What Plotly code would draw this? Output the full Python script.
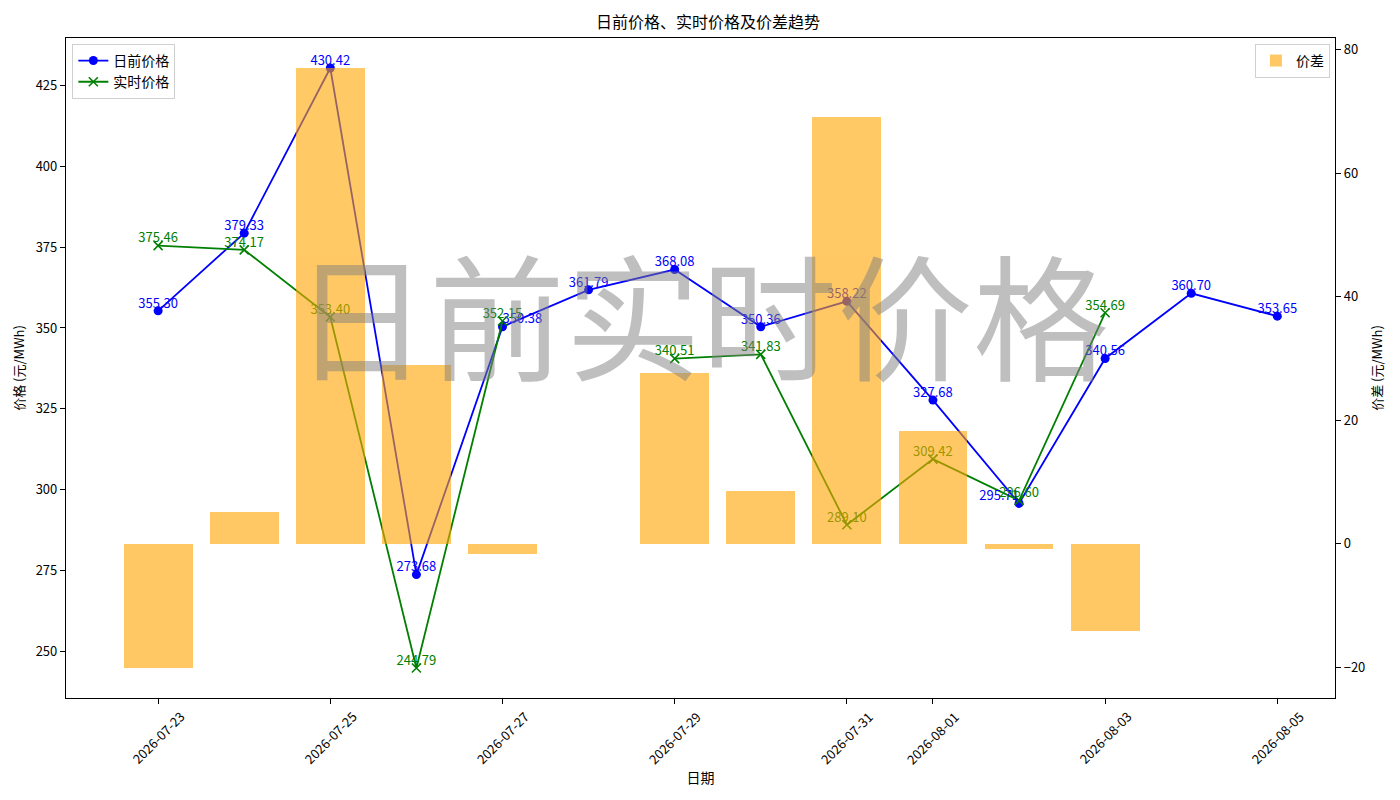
import plotly.graph_objects as go
import pandas as pd
import numpy as np

# daily data
dates = ["2026-07-23", "2026-07-24", "2026-07-25", "2026-07-26", "2026-07-27",
         "2026-07-28", "2026-07-29", "2026-07-30", "2026-07-31", "2026-08-01",
         "2026-08-02", "2026-08-03", "2026-08-04", "2026-08-05"]
day_ahead = [355.30, 379.33, 430.42, 273.68, 350.38, 361.79, 368.08,
             350.36, 358.22, 327.68, 295.71, 340.56, 360.70, 353.65]
real_time = [375.46, 374.17, 353.40, 244.79, 352.15, None, 340.51,
             341.83, 289.10, 309.42, 296.60, 354.69, None, None]
tick_dates = ["2026-07-23", "2026-07-25", "2026-07-27", "2026-07-29",
              "2026-07-31", "2026-08-01", "2026-08-03", "2026-08-05"]

x = pd.to_datetime(dates)
da = np.array(day_ahead, dtype=float)
rt = np.array([np.nan if v is None else v for v in real_time], dtype=float)
spread = da - rt
has_rt = ~np.isnan(rt)

FONT = "Noto Sans CJK SC"
DAY = pd.Timedelta(days=1)

# matplotlib-like 5% margins
def pad(lo, hi, m=0.05):
    d = hi - lo
    return [lo - d * m, hi + d * m]

y1_range = pad(np.nanmin(np.r_[da, rt]), np.nanmax(np.r_[da, rt]))
y2_range = pad(np.nanmin(spread), np.nanmax(spread))
lo = x[0] - 0.4 * DAY
hi = x[-1]
span = hi - lo
x_range = [lo - span * 0.05, hi + span * 0.05]

fig = go.Figure()

fig.add_trace(go.Scatter(
    x=x, y=da, mode="lines+markers", name="日前价格",
    line=dict(color="blue", width=1.8),
    marker=dict(color="blue", size=9, symbol="circle"),
    legend="legend",
))
fig.add_trace(go.Scatter(
    x=x, y=rt, mode="lines+markers", name="实时价格",
    line=dict(color="green", width=1.8),
    marker=dict(color="green", size=9, symbol="x-thin", line=dict(color="green", width=1.6)),
    connectgaps=False, legend="legend",
))

# value labels
da_pos = ["top center"] * len(dates)
da_pos[4] = "top right"
da_pos[10] = "top left"
fig.add_trace(go.Scatter(
    x=x, y=da, mode="text", text=[f"{v:.2f}" for v in da],
    textposition=da_pos, textfont=dict(color="blue", size=13, family=FONT),
    showlegend=False, hoverinfo="skip",
))
fig.add_trace(go.Scatter(
    x=x[has_rt], y=rt[has_rt], mode="text", text=[f"{v:.2f}" for v in rt[has_rt]],
    textposition="top center", textfont=dict(color="green", size=13, family=FONT),
    showlegend=False, hoverinfo="skip",
))

fig.add_trace(go.Bar(
    x=x[has_rt], y=spread[has_rt], name="价差", yaxis="y2",
    marker=dict(color="orange", line=dict(width=0)), opacity=0.6,
    width=0.8 * 86400000, legend="legend2",
))

annotations = [dict(
    text="日前实时价格", xref="paper", yref="paper", x=0.5, y=0.585,
    showarrow=False, font=dict(size=136, color="rgba(128,128,128,0.5)", family=FONT),
    xanchor="center", yanchor="middle",
)]
for d in tick_dates:
    annotations.append(dict(
        text=d, xref="x", yref="paper", x=d, y=-0.06, textangle=-45,
        showarrow=False, font=dict(size=13, color="black", family=FONT),
        xanchor="center", yanchor="middle",
    ))

axis_common = dict(
    ticks="outside", ticklen=5, tickcolor="black",
    showline=True, linecolor="black", linewidth=1.2,
    showgrid=False, zeroline=False, automargin=False,
)

# page body has an 8px offset, margins compensate for it
fig.update_layout(
    width=1400, height=800,
    paper_bgcolor="white", plot_bgcolor="white",
    margin=dict(l=58, r=73, t=30, b=110),
    font=dict(family=FONT, size=13, color="black"),
    title=dict(text="日前价格、实时价格及价差趋势", x=0.5, xanchor="center",
               y=0.9825, yanchor="middle", font=dict(size=16), automargin=False),
    xaxis=dict(
        type="date", range=x_range, tickvals=tick_dates, showticklabels=False,
        mirror=True, title=dict(text="日期", font=dict(size=14), standoff=70),
        **axis_common,
    ),
    yaxis=dict(
        range=y1_range, tickvals=[250, 275, 300, 325, 350, 375, 400, 425],
        mirror=True, title=dict(text="价格 (元/MWh)", font=dict(size=13), standoff=8),
        **axis_common,
    ),
    yaxis2=dict(
        range=y2_range, overlaying="y", side="right",
        tickvals=[-20, 0, 20, 40, 60, 80],
        title=dict(text="价差 (元/MWh)", font=dict(size=13), standoff=8),
        **axis_common,
    ),
    legend=dict(x=0.005, y=0.991, xanchor="left", yanchor="top",
                bgcolor="rgba(255,255,255,0.8)", bordercolor="#d0d0d0", borderwidth=1,
                font=dict(size=14)),
    legend2=dict(x=0.996, y=0.991, xanchor="right", yanchor="top",
                 bgcolor="rgba(255,255,255,0.8)", bordercolor="#d0d0d0", borderwidth=1,
                 font=dict(size=14)),
    annotations=annotations,
    bargap=0,
)

fig.write_html("out.html")
